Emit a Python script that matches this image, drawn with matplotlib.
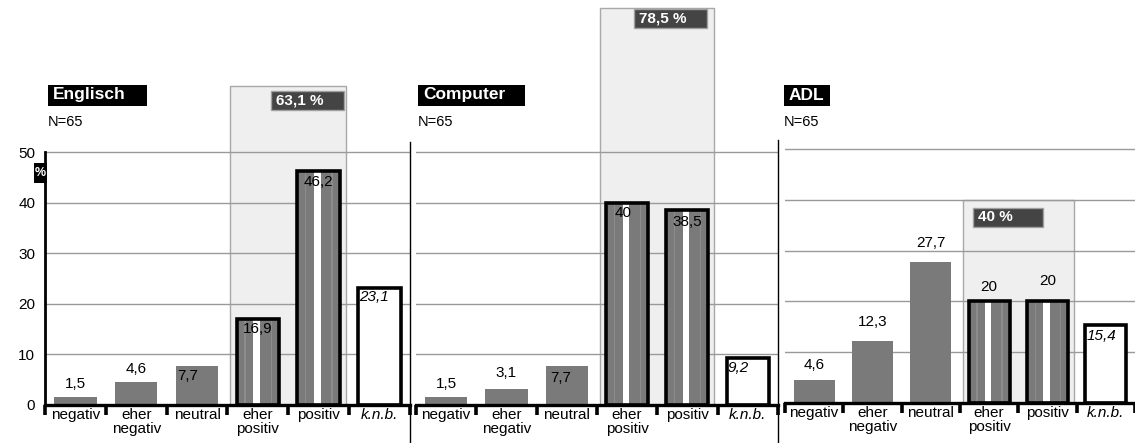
import matplotlib
matplotlib.use('Agg')
import matplotlib.pyplot as plt
from matplotlib.patches import Rectangle
from matplotlib.lines import Line2D

plt.rcParams['font.family'] = ['Liberation Sans', 'DejaVu Sans']

categories = ['negativ', 'eher\nnegativ', 'neutral', 'eher\npositiv', 'positiv', 'k.n.b.']
titles = ['Englisch', 'Computer', 'ADL']
n_values = [65, 65, 65]
englisch = [1.5, 4.6, 7.7, 16.9, 46.2, 23.1]
computer = [1.5, 3.1, 7.7, 40, 38.5, 9.2]
adl = [4.6, 12.3, 27.7, 20, 20, 15.4]
series = [englisch, computer, adl]
yticks = [0, 10, 20, 30, 40, 50]

# layout in pixels: left, right, baseline, px per 10 %
W, H = 1135, 443
panels = [(45, 410, 405, 50.6), (416, 778, 405, 50.6), (785, 1135, 403, 50.8)]
cat_px = [60.8, 60.3, 59.4]
title_boxes = [(48, 147), (418, 525), (784, 830)]
# value label offsets (px above bar top, x shift px)
lab_dy = [[13, 13, -10, -10, -11, -9],
          [13, 16, -12, -10, -12, -10],
          [15, 19, 19, 14, 20, -11]]
lab_dx = [[0, 0, -9, 0, 0, 0],
          [0, 0, -6, -4, 0, 0],
          [0, 0, 0, 0, 0, 0]]
sum_box_left = [3.72, 3.62, 3.22]
sum_box_drop = [1.0, 0.3, 1.6]

GRAY = '#7a7a7a'


def fx(x):
    return x / W


def fy(y):
    return 1 - y / H


def de(v):
    return ('%g' % v).replace('.', ',')


fig = plt.figure(figsize=(W / 100, H / 100), dpi=100)

for p, vals in enumerate(series):
    left, right, base, step = panels[p]
    ax = fig.add_axes([fx(left), fy(base), (right - left) / W, base / H])
    ax.set_ylim(0, base / step * 10)
    ax.set_xlim(0, (right - left) / cat_px[p])
    ax.patch.set_visible(False)

    # highlight of the two positive answers
    total = vals[3] + vals[4]
    ax.add_patch(Rectangle((3.05, 0), 1.9, total, facecolor='#efefef',
                           edgecolor='#a8a8a8', lw=1, zorder=0))
    for g in yticks[1:]:
        ax.axhline(g, color='#9a9a9a', lw=1, zorder=1)

    for i, v in enumerate(vals):
        c = i + 0.5
        if i < 3:
            ax.bar(c, v, 0.70, color=GRAY, zorder=2)
        elif i < 5:
            ax.bar(c, v, 0.70, color=GRAY, zorder=2)
            ax.bar(c - 0.21, v, 0.02, color='#8c8c8c', zorder=2.5)
            ax.bar(c + 0.22, v, 0.02, color='#8c8c8c', zorder=2.5)
            ax.bar(c - 0.02, v, 0.11, color='white', zorder=3)
            ax.bar(c, v, 0.70, fill=False, edgecolor='black', lw=2.6, zorder=4)
        else:
            ax.bar(c, v, 0.70, color='white', edgecolor='black', lw=2.6, zorder=4)

        dy = lab_dy[p][i] * 0.72
        dx = lab_dx[p][i] * 0.72
        if i == 5:
            ax.annotate(de(v), (c - 0.35, v), xytext=(1, dy), textcoords='offset points',
                        ha='left', va='center', fontsize=11, style='italic', zorder=6)
        else:
            ax.annotate(de(v), (c, v), xytext=(dx, dy), textcoords='offset points',
                        ha='center', va='center', fontsize=11, zorder=6)

    # dark box with the summed share
    bl = sum_box_left[p]
    bh = 19 / step * 10
    btop = total - sum_box_drop[p]
    ax.add_patch(Rectangle((bl, btop - bh), 1.2, bh, facecolor='#444444',
                           edgecolor='#a0a0a0', lw=1, zorder=5))
    ax.text(bl + 0.08, btop - bh / 2, de(total) + ' %', color='white',
            fontweight='bold', fontsize=11, ha='left', va='center', zorder=6)

    # axes styling
    for s in ['top', 'right']:
        ax.spines[s].set_visible(False)
    ax.spines['bottom'].set_linewidth(2.4)
    ax.spines['bottom'].set_zorder(5)
    ax.set_xticks([i + 0.5 for i in range(6)])
    ax.set_xticklabels(categories, fontsize=11, linespacing=1.0)
    for lbl in ax.get_xticklabels():
        if lbl.get_text() == 'k.n.b.':
            lbl.set_style('italic')
    ax.set_xticks(range(7), minor=True)
    ax.tick_params(axis='x', which='major', length=0, pad=2)
    ax.tick_params(axis='x', which='minor', length=7, width=2.6, color='black')

    if p == 0:
        ax.spines['left'].set_bounds(0, 50)
        ax.spines['left'].set_linewidth(2)
        ax.set_yticks(yticks)
        ax.set_yticklabels([str(t) for t in yticks], fontsize=11)
        ax.tick_params(axis='y', length=0, pad=7)
    else:
        ax.spines['left'].set_visible(False)
        ax.set_yticks([])

    # title box and N
    tx0, tx1 = title_boxes[p]
    fig.add_artist(Rectangle((fx(tx0), fy(106)), (tx1 - tx0) / W, 21 / H,
                             transform=fig.transFigure, facecolor='black', edgecolor='none'))
    fig.text(fx(tx0 + 5), fy(95), titles[p], color='white', fontweight='bold',
             fontsize=12.5, ha='left', va='center')
    fig.text(fx(tx0), fy(122), 'N=%d' % n_values[p], fontsize=10.5, ha='left', va='center')

# panel dividers
for xd, y0 in [(410, 142), (778, 140)]:
    fig.add_artist(Line2D([fx(xd), fx(xd)], [fy(y0), 0], transform=fig.transFigure,
                          color='black', lw=1))

# percent marker on the y axis
fig.add_artist(Rectangle((fx(34), fy(183)), 13 / W, 20 / H, transform=fig.transFigure,
                         facecolor='black', edgecolor='none', zorder=10))
fig.text(fx(40.5), fy(173), '%', color='white', fontweight='bold', fontsize=9,
         ha='center', va='center', zorder=11)

fig.savefig('out.png', dpi=100)
